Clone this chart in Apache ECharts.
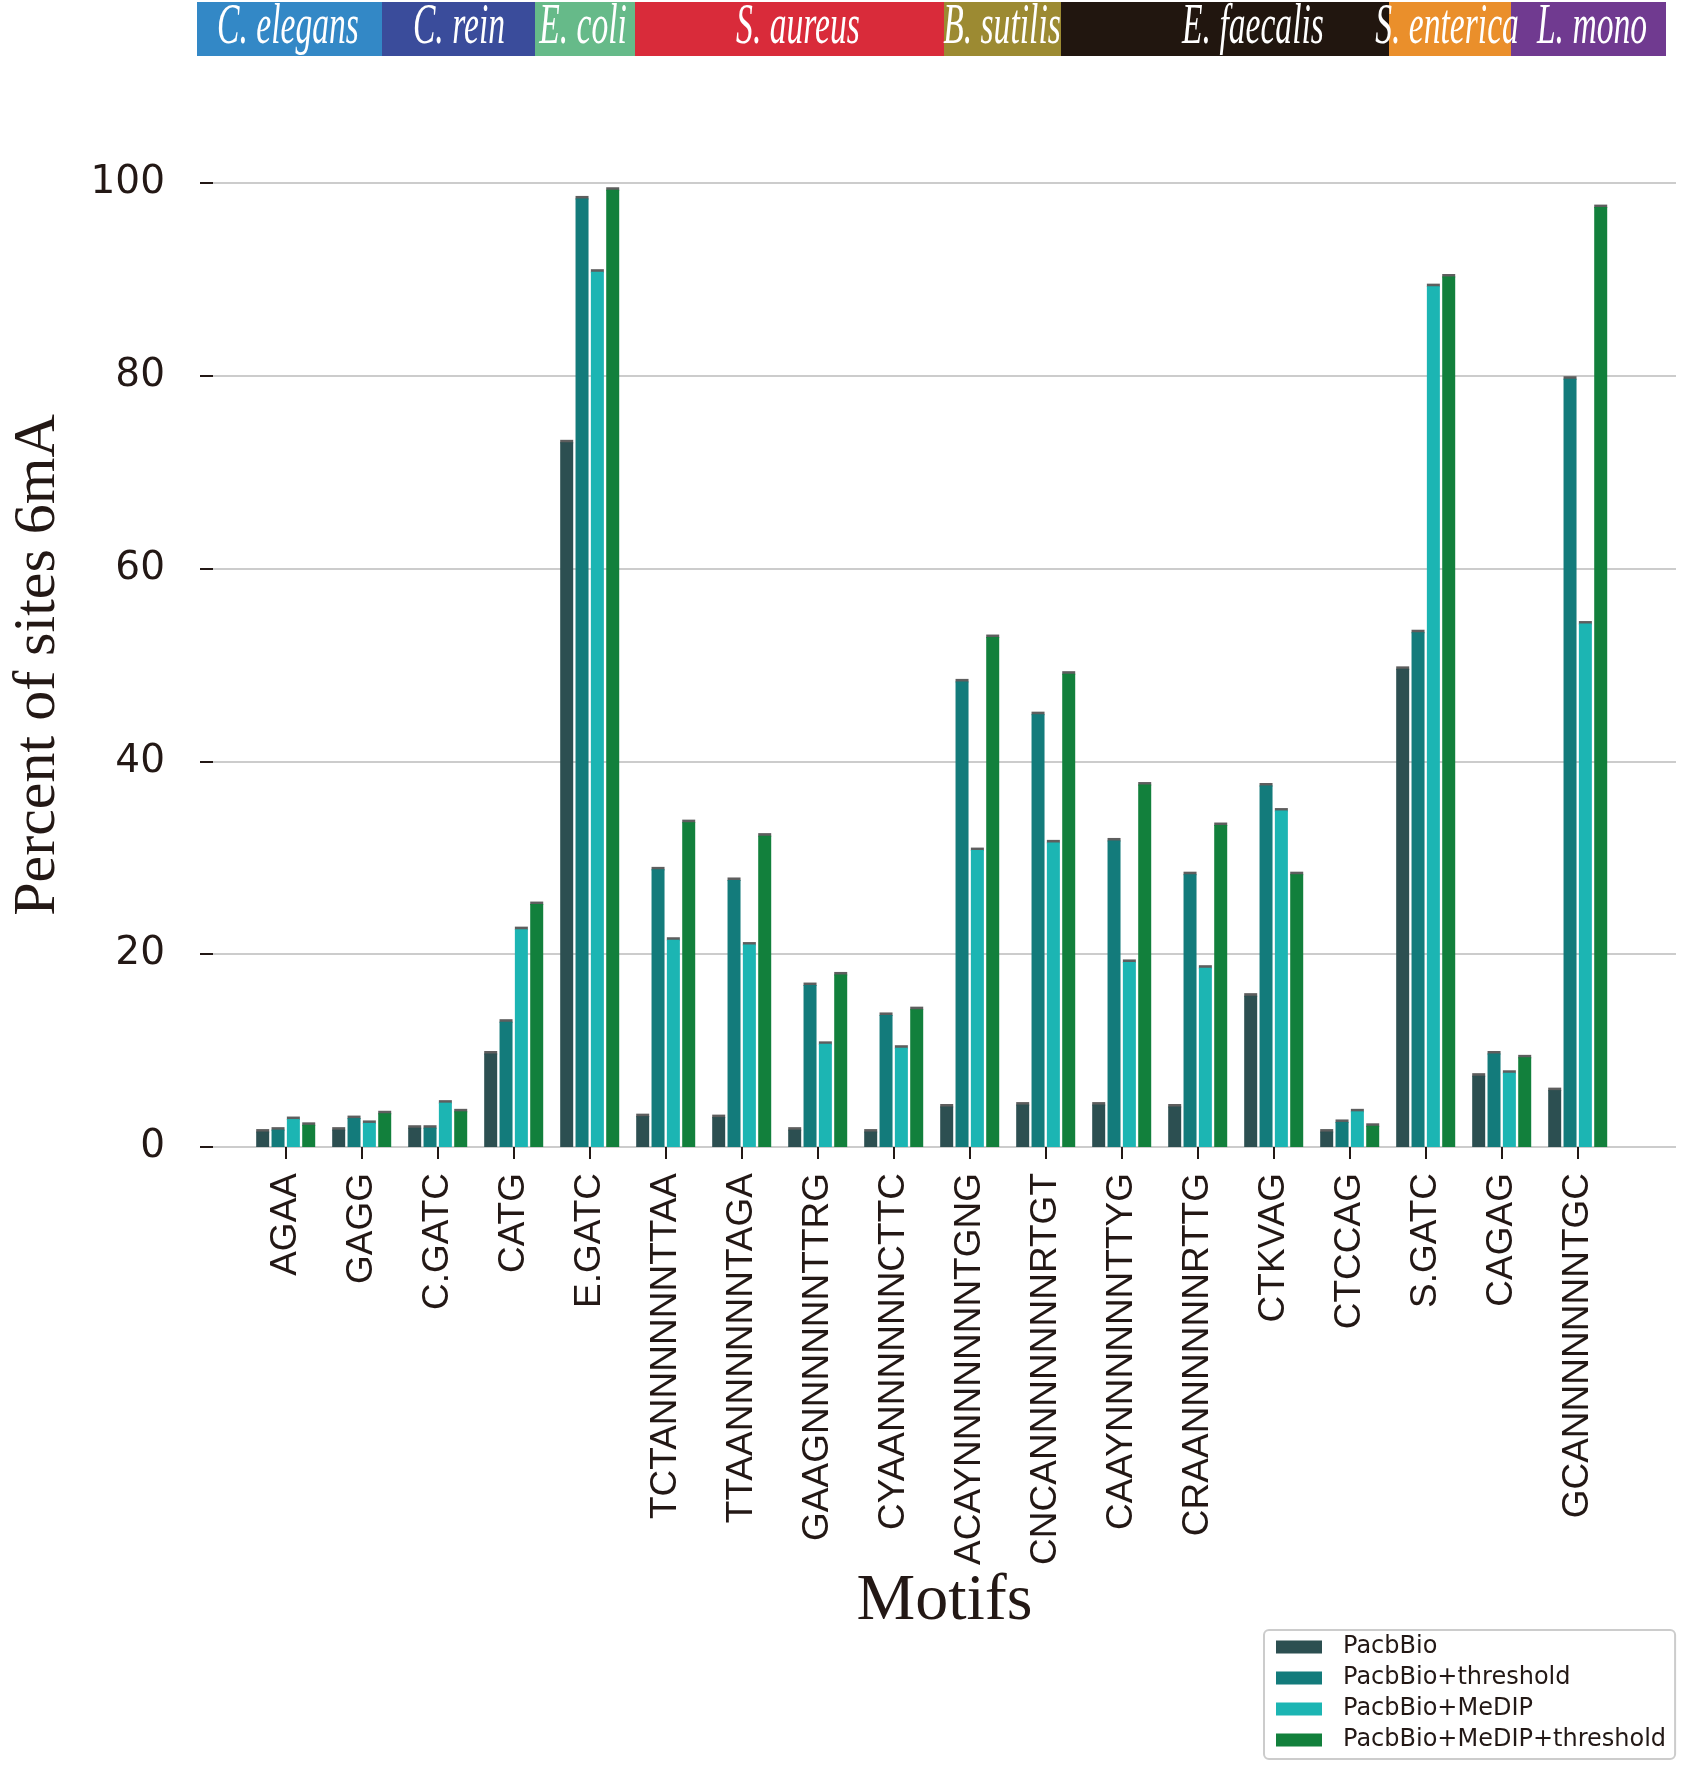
<!DOCTYPE html>
<html>
<head>
<meta charset="utf-8">
<script src="https://cdn.jsdelivr.net/npm/echarts@6/dist/echarts.min.js"></script>
<style>
  html, body { margin: 0; padding: 0; background: #fff; }
  #main { width: 1682px; height: 1768px; }
</style>
</head>
<body>
<div id="main"></div>
<script>
// motifs on the x axis
var motifs = ['AGAA', 'GAGG', 'C.GATC', 'CATG', 'E.GATC', 'TCTANNNNNNTTAA', 'TTAANNNNNNTAGA',
  'GAAGNNNNNNTTRG', 'CYAANNNNNNCTTC', 'ACAYNNNNNNNTGNG', 'CNCANNNNNNNRTGT', 'CAAYNNNNNNTTYG',
  'CRAANNNNNNRTTG', 'CTKVAG', 'CTCCAG', 'S.GATC', 'CAGAG', 'GCANNNNNNNTGC'];

var seriesNames = ['PacbBio', 'PacbBio+threshold', 'PacbBio+MeDIP', 'PacbBio+MeDIP+threshold'];

// percent of sites 6mA
var pacbio = [1.6, 1.8, 2.0, 9.7, 73.1, 3.2, 3.1, 1.8, 1.6, 4.2, 4.4, 4.4, 4.2, 15.7, 1.6, 49.6, 7.4, 5.9];
var pacbioThreshold = [1.8, 3.0, 2.0, 13.0, 98.4, 28.8, 27.7, 16.8, 13.7, 48.3, 44.9, 31.8, 28.3, 37.5, 2.6, 53.4, 9.7, 79.7];
var pacbioMedip = [2.9, 2.5, 4.6, 22.6, 90.8, 21.5, 21.0, 10.7, 10.3, 30.8, 31.6, 19.2, 18.6, 34.9, 3.7, 89.3, 7.7, 54.3];
var pacbioMedipThreshold = [2.3, 3.5, 3.7, 25.2, 99.3, 33.7, 32.3, 17.9, 14.3, 52.9, 49.1, 37.6, 33.4, 28.3, 2.2, 90.3, 9.3, 97.5];

var yTicks = [0, 20, 40, 60, 80, 100];

// species header strip
var species = ['C. elegans', 'C. rein', 'E. coli', 'S. aureus', 'B. sutilis', 'E. faecalis', 'S. enterica', 'L. mono'];

// layout / styling of the header (pixels)
var headerEdges = [197, 382, 535, 635, 944, 1061, 1389, 1511, 1666];
var headerTextX = [288, 459, 583, 798, 1002, 1253, 1447, 1592];
var headerColors = ['#3388c6', '#3a4c9b', '#66ba89', '#d92b3a', '#9c8a32', '#21160f', '#ea8f2b', '#703a90'];
var barColors = ['#2c4f51', '#137b7b', '#1cb5b3', '#12803c'];
var textColor = '#231815';
var BAR_W = 13, BAR_GAP = 0.18;

var allValues = [pacbio, pacbioThreshold, pacbioMedip, pacbioMedipThreshold];

var chart = echarts.init(document.getElementById('main'), null, { renderer: 'canvas' });

var graphics = [];
species.forEach(function (name, i) {
  graphics.push({
    type: 'rect',
    shape: { x: headerEdges[i], y: 2, width: headerEdges[i + 1] - headerEdges[i], height: 54 },
    style: { fill: headerColors[i] },
    silent: true
  });
});
species.forEach(function (name, i) {
  graphics.push({
    type: 'text',
    x: headerTextX[i],
    y: 28,
    scaleX: 0.6,
    style: {
      text: name,
      fill: '#ffffff',
      fontFamily: 'Liberation Serif',
      fontStyle: 'italic',
      fontSize: 56,
      align: 'center',
      verticalAlign: 'middle'
    },
    silent: true
  });
});

var capData = [];
allValues.forEach(function (vals, s) {
  vals.forEach(function (v, i) { capData.push([i, v, s]); });
});

var barSeries = seriesNames.map(function (name, s) {
  return {
    name: name,
    type: 'bar',
    xAxisIndex: 1,
    yAxisIndex: 1,
    barWidth: BAR_W,
    barGap: (BAR_GAP * 100) + '%',
    itemStyle: { color: barColors[s] },
    data: allValues[s]
  };
});

var option = {
  backgroundColor: '#ffffff',
  animation: false,
  graphic: graphics,
  legend: {
    orient: 'vertical',
    left: 1264,
    top: 1630,
    data: seriesNames,
    icon: 'rect',
    itemWidth: 46,
    itemHeight: 13,
    itemGap: 7,
    padding: [5, 9, 7, 12],
    borderColor: '#cccccc',
    borderWidth: 2,
    borderRadius: 5,
    textStyle: {
      fontFamily: 'DejaVu Sans',
      fontSize: 24,
      color: textColor,
      padding: [0, 0, 0, 16]
    }
  },
  grid: [
    { left: 188, right: 6, top: 183, bottom: 621 },
    { left: 247.7, right: 66.3, top: 183, bottom: 621 }
  ],
  xAxis: [
    {
      gridIndex: 0,
      type: 'value',
      min: 0,
      max: 1,
      name: 'Motifs',
      nameLocation: 'middle',
      nameGap: 422,
      nameTextStyle: { fontFamily: 'Liberation Serif', fontSize: 66, color: textColor },
      axisLine: { show: false },
      axisTick: { show: false },
      axisLabel: { show: false },
      splitLine: { show: false }
    },
    {
      gridIndex: 1,
      type: 'category',
      data: motifs,
      axisLine: { show: false },
      axisTick: {
        show: true,
        alignWithLabel: true,
        interval: 0,
        length: 12,
        lineStyle: { color: textColor, width: 2 }
      },
      axisLabel: {
        interval: 0,
        rotate: 90,
        margin: 26,
        fontFamily: 'Liberation Sans',
        fontSize: 37,
        color: textColor
      },
      splitLine: { show: false }
    }
  ],
  yAxis: [
    {
      gridIndex: 0,
      type: 'value',
      min: yTicks[0],
      max: yTicks[yTicks.length - 1],
      interval: yTicks[1] - yTicks[0],
      name: 'Percent of sites 6mA',
      nameLocation: 'middle',
      nameGap: 145,
      nameTextStyle: { fontFamily: 'Liberation Serif', fontSize: 60, color: textColor },
      axisLine: { show: false },
      axisTick: { show: true, length: 13, lineStyle: { color: textColor, width: 2 } },
      axisLabel: { margin: 48, fontFamily: 'DejaVu Sans', fontSize: 39, color: textColor },
      splitLine: { show: true, lineStyle: { color: '#cccccc', width: 2 } }
    },
    {
      gridIndex: 1,
      type: 'value',
      min: yTicks[0],
      max: yTicks[yTicks.length - 1],
      show: false,
      splitLine: { show: false }
    }
  ],
  series: barSeries.concat([{
    name: 'caps',
    type: 'custom',
    xAxisIndex: 1,
    yAxisIndex: 1,
    silent: true,
    encode: { x: 0, y: 1 },
    data: capData,
    renderItem: function (params, api) {
      var p = api.coord([api.value(0), api.value(1)]);
      var step = BAR_W * (1 + BAR_GAP);
      var cx = p[0] + (api.value(2) - 1.5) * step;
      return {
        type: 'rect',
        shape: { x: cx - BAR_W / 2, y: p[1] - 2.5, width: BAR_W, height: 3.5 },
        style: { fill: '#5e5e5e' }
      };
    }
  }])
};

chart.setOption(option);
</script>
</body>
</html>
